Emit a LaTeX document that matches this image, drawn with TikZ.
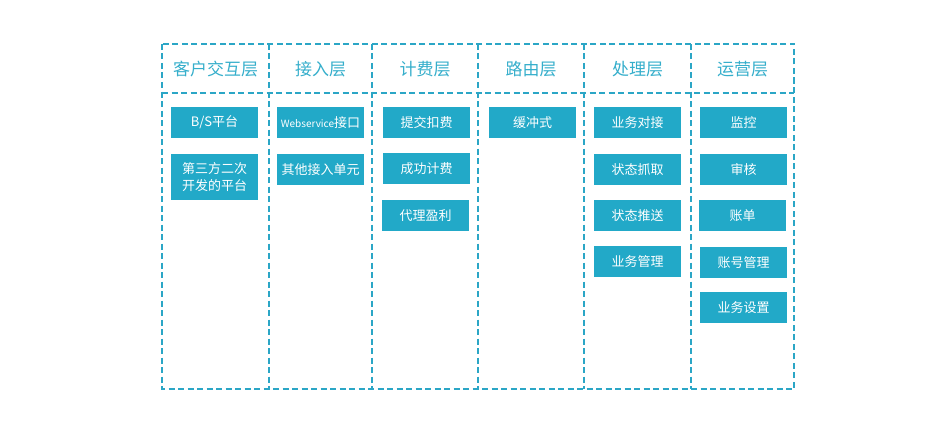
\documentclass[tikz,border=0pt]{standalone}
\usepackage{fontspec}
\setmainfont{Noto Sans CJK SC}
\definecolor{layerblue}{HTML}{2BA6C6}
\definecolor{titleblue}{HTML}{35AECB}
\definecolor{itemblue}{HTML}{22A9C8}
\tikzset{
  frame/.style={layerblue, line width=1.4pt, dash pattern=on 6pt off 3.5pt},
  layer/.style={text=titleblue, font=\fontsize{17}{19}\selectfont},
  item/.style={fill=itemblue, text=white, minimum width=87pt, minimum height=31pt,
    inner sep=0pt, align=center, font=\fontsize{13}{17}\selectfont},
}
\begin{document}
\begin{tikzpicture}[x=1pt,y=-1pt]
\useasboundingbox (0,0) rectangle (945,436);
     % frame of the layers
     \draw[frame] (162,44) rectangle (794,389);
     \draw[frame] (162,93)--(794,93);
     \foreach \x in {269,372,478,584,691}
        \draw[frame] (\x,44)--(\x,389);

     % layer titles
     \node[layer] (client)  at (215.5,69) {客户交互层};
     \node[layer] (access)  at (320.5,69) {接入层};
     \node[layer] (billing) at (425,69)   {计费层};
     \node[layer] (routing) at (531,69)   {路由层};
     \node[layer] (process) at (637.5,69) {处理层};
     \node[layer] (operate) at (742.5,69) {运营层};

     % client
     \node[item] (bs)    at (214.5,122.5) {B/S平台};
     \node[item, minimum height=46pt] (third) at (214.5,177) {第三方二次\\开发的平台};
     % access
     \node[item] (ws)    at (320.5,122.5) {{\fontsize{10}{12}\selectfont Webservice}接口};
     \node[item] (other) at (320.5,169.5) {其他接入单元};
     % billing
     \node[item] (submit) at (426.5,122.5) {提交扣费};
     \node[item] (done)   at (426.5,168.5) {成功计费};
     \node[item] (agent)  at (425.5,215.5) {代理盈利};
     % routing
     \node[item] (buffer) at (532.5,122.5) {缓冲式};
     % process
     \node[item] (dock)   at (637.5,122.5) {业务对接};
     \node[item] (fetch)  at (637.5,169.5) {状态抓取};
     \node[item] (push)   at (637.5,215.5) {状态推送};
     \node[item] (pmgmt)  at (637.5,261.5) {业务管理};
     % operation
     \node[item] (watch)  at (743.5,122.5) {监控};
     \node[item] (audit)  at (743.5,169.5) {审核};
     \node[item] (bill)   at (742.5,215.5) {账单};
     \node[item] (acct)   at (743.5,262.5) {账号管理};
     \node[item] (setup)  at (743.5,307.5) {业务设置};
\end{tikzpicture}
\end{document}
